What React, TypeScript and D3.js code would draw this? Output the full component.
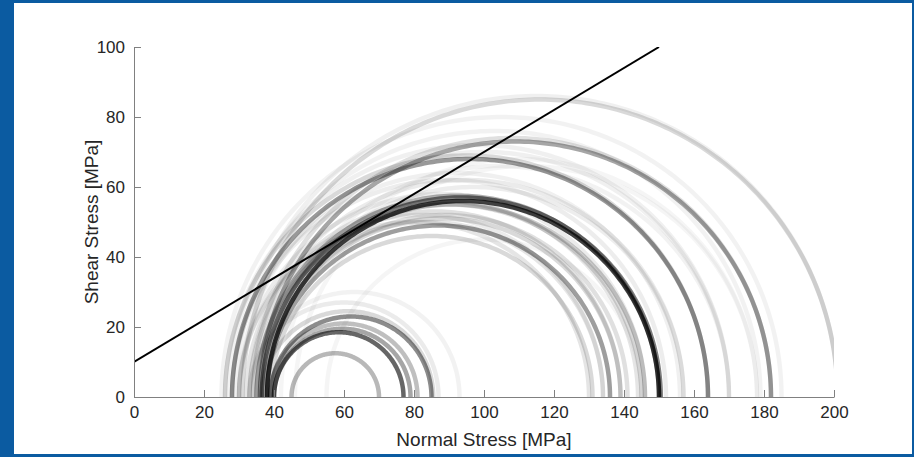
import React, { useEffect, useRef } from "react";
import * as d3 from "d3";

// Mohr circles: center (normal stress, MPa), radius (MPa), relative density of overlapping samples
const circleCenters = [
  // small group
  57.5, 58.5, 59.5, 60, 62, 61, 60, 63,
  // medium / large distinct rings
  87, 85, 88, 94, 93.5, 92.5, 91,
  96, 95, 109, 108, 116, 115,
  // faint fan of circles
  80, 82, 84, 86, 88, 88, 90, 90, 92, 95, 97, 98, 100, 103, 105, 110, 100, 89, 104, 112,
];
const circleRadii = [
  12.5, 18.5, 19.5, 21, 23, 24.5, 27, 30,
  49, 46, 51, 56, 57, 57.5, 55,
  68, 69, 73, 74, 85, 86,
  50, 52, 50, 53, 56, 58, 55, 62, 64, 62, 60, 72, 70, 76, 80, 68, 45, 52, 66, 66,
];
const circleDensity = [
  0.28, 0.6, 0.35, 0.25, 0.45, 0.15, 0.08, 0.05,
  0.38, 0.15, 0.15, 0.75, 0.5, 0.3, 0.2,
  0.4, 0.15, 0.35, 0.12, 0.15, 0.06,
  0.1, 0.08, 0.1, 0.12, 0.1, 0.08, 0.14, 0.07, 0.06, 0.08, 0.07, 0.06, 0.06, 0.05, 0.05, 0.04, 0.04, 0.12, 0.05, 0.04,
];

// Failure envelope
const envelopeSigma = [0, 150];
const envelopeTau = [10, 100];

const xTicks = [0, 20, 40, 60, 80, 100, 120, 140, 160, 180, 200];
const yTicks = [0, 20, 40, 60, 80, 100];

const W = 914;
const H = 457;

export default function App() {
  const ref = useRef<SVGSVGElement>(null);

  useEffect(() => {
    const svg = d3.select(ref.current);
    svg.selectAll("*").remove();

    // frame
    svg.append("rect").attr("x", 0).attr("y", 0).attr("width", W).attr("height", H).attr("fill", "#0b5ba1");
    svg.append("rect").attr("x", 14).attr("y", 3).attr("width", W - 14 - 2).attr("height", 451).attr("fill", "#ffffff");

    const x = d3.scaleLinear().domain([0, 200]).range([134, 834]);
    const y = d3.scaleLinear().domain([0, 100]).range([397, 47]);

    const defs = svg.append("defs");
    defs
      .append("clipPath")
      .attr("id", "plotclip")
      .append("rect")
      .attr("x", x(0))
      .attr("y", y(100))
      .attr("width", x(200) - x(0))
      .attr("height", y(0) - y(100));
    defs
      .append("filter")
      .attr("id", "soft")
      .attr("x", "-5%")
      .attr("y", "-5%")
      .attr("width", "110%")
      .attr("height", "110%")
      .append("feGaussianBlur")
      .attr("stdDeviation", 0.7);

    const outer = svg.append("g").attr("clip-path", "url(#plotclip)");
    const g = outer.append("g").attr("filter", "url(#soft)");
    const angles = d3.range(0, 181).map((d) => (d * Math.PI) / 180);
    const line = d3
      .line<[number, number]>()
      .x((d) => x(d[0]))
      .y((d) => y(d[1]));

    circleCenters.forEach((c, i) => {
      const r = circleRadii[i];
      const pts: [number, number][] = angles.map((a) => [c + r * Math.cos(a), r * Math.sin(a)]);
      g.append("path")
        .attr("d", line(pts))
        .attr("fill", "none")
        .attr("stroke", "#000")
        .attr("stroke-opacity", circleDensity[i])
        .attr("stroke-width", 4.5);
    });

    outer
      .append("path")
      .attr("d", line(envelopeSigma.map((s, i) => [s, envelopeTau[i]] as [number, number])))
      .attr("fill", "none")
      .attr("stroke", "#000")
      .attr("stroke-width", 2);

    const font = "'Liberation Sans', Arial, Helvetica, sans-serif";
    const xAxis = svg
      .append("g")
      .attr("transform", `translate(0,${y(0)})`)
      .call(d3.axisBottom(x).tickValues(xTicks).tickSizeInner(-7).tickSizeOuter(0).tickPadding(9));
    const yAxis = svg
      .append("g")
      .attr("transform", `translate(${x(0)},0)`)
      .call(d3.axisLeft(y).tickValues(yTicks).tickSizeInner(-7).tickSizeOuter(0).tickPadding(9));
    [xAxis, yAxis].forEach((a) => {
      a.select(".domain").attr("stroke", "#808080");
      a.selectAll(".tick line").attr("stroke", "#808080");
      a.selectAll(".tick text").attr("fill", "#262626").style("font-family", font).style("font-size", "17px");
    });

    svg
      .append("text")
      .attr("x", (x(0) + x(200)) / 2)
      .attr("y", 446)
      .attr("text-anchor", "middle")
      .attr("fill", "#262626")
      .style("font-family", font)
      .style("font-size", "19px")
      .text("Normal Stress [MPa]");

    svg
      .append("text")
      .attr("transform", `translate(98,${(y(0) + y(100)) / 2}) rotate(-90)`)
      .attr("text-anchor", "middle")
      .attr("fill", "#262626")
      .style("font-family", font)
      .style("font-size", "19px")
      .text("Shear Stress [MPa]");
  }, []);

  return (
    <svg
      ref={ref}
      width={W}
      height={H}
      style={{ position: "absolute", left: 0, top: 0, display: "block" }}
    />
  );
}
